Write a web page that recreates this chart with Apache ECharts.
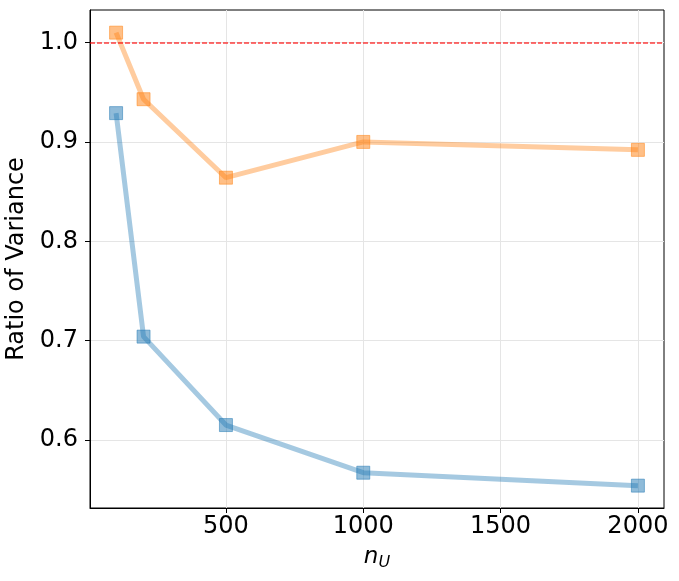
<!DOCTYPE html>
<html><head><meta charset="utf-8">
<script src="https://cdn.jsdelivr.net/npm/echarts@6/dist/echarts.min.js"></script>
<style>html,body{margin:0;padding:0;background:#fff}#c{width:679px;height:581px}</style>
</head><body><div id="c"></div>
<script>
const nU = [100, 200, 500, 1000, 2000];
const orangeValues = [1.010, 0.943, 0.864, 0.900, 0.892];
const blueValues = [0.929, 0.704, 0.615, 0.567, 0.554];
const xTicks = [500, 1000, 1500, 2000];
const yTicks = [0.6, 0.7, 0.8, 0.9, 1.0];
const refValue = 1.0;

const chart = echarts.init(document.getElementById('c'));
const font = 'DejaVu Sans';
function mk(vals){ return nU.map((x,i)=>[x, vals[i]]); }
chart.setOption({
  animation: false,
  grid: {left: 90, right: 15, top: 10, bottom: 73, outerBoundsMode: 'none', containLabel: false, show: true, borderColor: '#000', borderWidth: 1, backgroundColor: 'transparent'},
  xAxis: {
    type: 'value', min: 5, max: 2095,
    name: '{n|n}{u|U}', nameLocation: 'middle', nameGap: 35,
    nameTextStyle: {rich: {
      n: {fontFamily: font, fontStyle: 'italic', fontSize: 23, color: '#000'},
      u: {fontFamily: font, fontStyle: 'italic', fontSize: 16, color: '#000', verticalAlign: 'bottom', padding: [12,0,0,0]}
    }},
    axisLine: {show: true, lineStyle: {color: '#000', width: 1}},
    axisTick: {show: true, customValues: xTicks, length: 5, inside: false, lineStyle: {color: '#000'}},
    axisLabel: {customValues: xTicks, fontFamily: font, fontSize: 24, color: '#000', margin: 7, formatter: v => String(v)},
    splitLine: {show: true, lineStyle: {color: '#e5e5e5', width: 1}}
  },
  yAxis: {
    type: 'value', min: 0.5315, max: 1.0328,
    name: 'Ratio of Variance', nameLocation: 'middle', nameGap: 59,
    nameTextStyle: {fontFamily: font, fontSize: 24, color: '#000'},
    axisLine: {show: true, lineStyle: {color: '#000', width: 1}},
    axisTick: {show: true, customValues: yTicks, length: 5, lineStyle: {color: '#000'}},
    axisLabel: {customValues: yTicks, fontFamily: font, fontSize: 24, color: '#000', margin: 12, formatter: v => v.toFixed(1)},
    splitLine: {show: true, lineStyle: {color: '#e5e5e5', width: 1}}
  },
  series: [
    {
      type: 'line', data: mk(blueValues), symbol: 'rect', symbolSize: 13,
      lineStyle: {color: 'rgba(31,119,180,0.4)', width: 5},
      itemStyle: {color: 'rgba(31,119,180,0.5)', borderColor: 'rgba(31,119,180,0.5)', borderWidth: 1},
      z: 3
    },
    {
      type: 'line', data: mk(orangeValues), symbol: 'rect', symbolSize: 13,
      lineStyle: {color: 'rgba(255,127,14,0.4)', width: 5},
      itemStyle: {color: 'rgba(255,127,14,0.5)', borderColor: 'rgba(255,127,14,0.5)', borderWidth: 1},
      z: 3,
      markLine: {
        silent: true, symbol: 'none', label: {show: false},
        lineStyle: {color: 'rgba(255,0,0,0.75)', type: [5, 2], width: 1.5},
        data: [{yAxis: refValue}]
      }
    }
  ]
});
</script></body></html>
